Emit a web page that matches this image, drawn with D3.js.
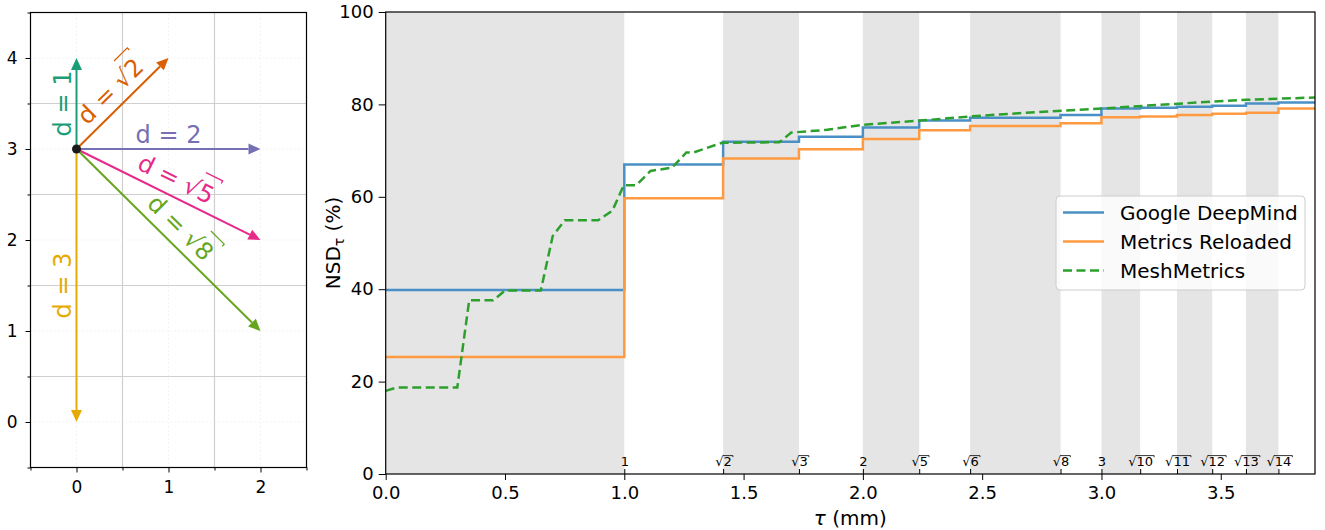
<!DOCTYPE html>
<html>
<head>
<meta charset="utf-8">
<script src="https://cdn.jsdelivr.net/npm/d3@7"></script>
<style>
  body { margin: 0; background: #fff; }
  svg { font-family: "DejaVu Sans", sans-serif; display: block; }
</style>
</head>
<body>
<div id="chart"></div>
<script>
// ---- data: left panel (neighbour distances on a grid) ----
const origin = [0, 3];
const arrowEnds = [[0, 4], [1, 4], [2, 3], [2, 2], [2, 1], [0, 0]];
const arrowLabels = ["1", "2", "2", "5", "8", "3"];
const arrowIsRoot = [false, true, false, true, true, false];
const arrowColors = ["#1b9e77", "#d95f02", "#7570b3", "#e7298a", "#66a61e", "#e6ab02"];

// ---- data: right panel ----
const distSquares = [1, 2, 3, 4, 5, 6, 8, 9, 10, 11, 12, 13, 14];
const distLabels = ["1", "√2", "√3", "2", "√5", "√6", "√8", "3", "√10", "√11", "√12", "√13", "√14"];
const xTicks = [0, 0.5, 1, 1.5, 2, 2.5, 3, 3.5];
const yTicks = [0, 20, 40, 60, 80, 100];

// NSD value per interval [0,1), [1,√2), [√2,√3) ... [√14, end)
const deepmind = [39.8, 67.0, 71.9, 73.0, 75.0, 76.5, 77.1, 77.7, 79.1, 79.3, 79.5, 79.7, 80.2, 80.4];
const reloaded = [25.3, 59.7, 68.3, 70.3, 72.5, 74.4, 75.3, 75.9, 77.2, 77.4, 77.7, 78.0, 78.2, 79.1];

const meshTau = [0, 0.045, 0.30, 0.35, 0.45, 0.50, 0.65, 0.70, 0.75, 0.89, 0.95, 0.998, 1.05, 1.11, 1.20,
  1.26, 1.29, 1.41, 1.65, 1.70, 1.85, 2.0, 2.24, 2.45, 2.78, 3.0, 3.3, 3.61, 3.895];
const meshNSD = [18.0, 18.7, 18.7, 37.6, 37.6, 39.7, 39.7, 51.5, 54.9, 54.9, 57.0, 62.5, 62.5, 65.6, 66.3,
  69.6, 69.6, 71.7, 71.8, 73.9, 74.5, 75.6, 76.5, 77.4, 78.5, 79.1, 80.1, 81.0, 81.5];

const series = [
  { name: "Google DeepMind", color: "#4a90c6", dash: null },
  { name: "Metrics Reloaded", color: "#ff9a40", dash: null },
  { name: "MeshMetrics", color: "#2ca02c", dash: "9,4.5" },
];

const width = 1325, height = 530;
const svg = d3.select("#chart").append("svg").attr("width", width).attr("height", height);

// draws the bar of a square root over the characters after "√" in a text node
function addRootBar(textNode, parent, fs, color, sw) {
  const str = textNode.textContent;
  const k = str.indexOf("√");
  if (k < 0) return;
  const ext = textNode.getExtentOfChar(k);
  const base = textNode.getStartPositionOfChar(k).y;
  const end = textNode.getEndPositionOfChar(str.length - 1).x;
  const top = base - 0.80 * fs;
  const x0 = ext.x + ext.width - fs * 0.06;
  parent.append("path")
    .attr("d", `M${x0},${top}H${end + fs * 0.08}v${fs * 0.12}`)
    .attr("fill", "none").attr("stroke", color).attr("stroke-width", sw);
}

// ================= left panel =================
const xL = d3.scaleLinear().domain([-0.5, 2.5]).range([30.5, 306.5]);
const yL = d3.scaleLinear().domain([-0.5, 4.5]).range([467.5, 12.5]);
const left = svg.append("g");

// grid: solid at half steps, faint dotted at integers
[0.5, 1.5].forEach(v => left.append("line").attr("x1", xL(v)).attr("x2", xL(v)).attr("y1", yL(-0.5)).attr("y2", yL(4.5))
  .attr("stroke", "#cfcfcf").attr("stroke-width", 1.2));
[0.5, 1.5, 2.5, 3.5].forEach(v => left.append("line").attr("y1", yL(v)).attr("y2", yL(v)).attr("x1", xL(-0.5)).attr("x2", xL(2.5))
  .attr("stroke", "#cfcfcf").attr("stroke-width", 1.2));
[0, 1, 2].forEach(v => left.append("line").attr("x1", xL(v)).attr("x2", xL(v)).attr("y1", yL(-0.5)).attr("y2", yL(4.5))
  .attr("stroke", "#e4e4e4").attr("stroke-width", 0.8).attr("stroke-dasharray", "1,3"));
[0, 1, 2, 3, 4].forEach(v => left.append("line").attr("y1", yL(v)).attr("y2", yL(v)).attr("x1", xL(-0.5)).attr("x2", xL(2.5))
  .attr("stroke", "#e4e4e4").attr("stroke-width", 0.8).attr("stroke-dasharray", "1,3"));

// axes
const styleAxis = (g, fs) => {
  g.select(".domain").remove();
  g.selectAll(".tick line").attr("stroke", "#000").attr("stroke-width", 1);
  g.selectAll(".tick text").attr("font-size", fs).attr("fill", "#000").attr("font-family", "DejaVu Sans");
};
left.append("g").attr("transform", `translate(0,${yL(-0.5)})`)
  .call(d3.axisBottom(xL).tickValues([0, 1, 2]).tickFormat(d3.format("d")).tickSize(5).tickPadding(8))
  .call(g => styleAxis(g, 17));
left.append("g").attr("transform", `translate(0,${yL(-0.5)})`)
  .call(d3.axisBottom(xL).tickValues([-0.5, 0.5, 1.5, 2.5]).tickFormat("").tickSize(3))
  .call(g => styleAxis(g, 17));
left.append("g").attr("transform", `translate(${xL(-0.5)},0)`)
  .call(d3.axisLeft(yL).tickValues([0, 1, 2, 3, 4]).tickFormat(d3.format("d")).tickSize(5).tickPadding(8))
  .call(g => styleAxis(g, 17));
left.append("g").attr("transform", `translate(${xL(-0.5)},0)`)
  .call(d3.axisLeft(yL).tickValues([-0.5, 0.5, 1.5, 2.5, 3.5, 4.5]).tickFormat("").tickSize(3))
  .call(g => styleAxis(g, 17));

// arrows
const headLen = 12, headHalf = 5.5, labelOffset = 14;
arrowEnds.forEach((end, i) => {
  const x0 = xL(origin[0]), y0 = yL(origin[1]);
  const x1 = xL(end[0]), y1 = yL(end[1]);
  const len = Math.hypot(x1 - x0, y1 - y0);
  const ux = (x1 - x0) / len, uy = (y1 - y0) / len;
  const bx = x1 - ux * headLen, by = y1 - uy * headLen;
  left.append("line").attr("x1", x0).attr("y1", y0).attr("x2", bx).attr("y2", by)
    .attr("stroke", arrowColors[i]).attr("stroke-width", 2);
  left.append("polygon")
    .attr("points", [[x1, y1], [bx - uy * headHalf, by + ux * headHalf], [bx + uy * headHalf, by - ux * headHalf]].map(p => p.join(",")).join(" "))
    .attr("fill", arrowColors[i]);

  let ang = Math.atan2(uy, ux) * 180 / Math.PI;
  if (ang >= 90) ang -= 180;
  if (ang < -90) ang += 180;
  const r = ang * Math.PI / 180;
  const off = labelOffset + (arrowIsRoot[i] ? 3 : 0);
  const cx = (x0 + x1) / 2 + Math.sin(r) * off;
  const cy = (y0 + y1) / 2 - Math.cos(r) * off;
  const lg = left.append("g").attr("transform", `translate(${cx},${cy}) rotate(${ang})`);
  const t = lg.append("text")
    .attr("text-anchor", "middle").attr("dominant-baseline", "central")
    .attr("font-size", 24).attr("fill", arrowColors[i])
    .text("d = " + (arrowIsRoot[i] ? "√" : "") + arrowLabels[i]);
  if (arrowIsRoot[i]) addRootBar(t.node(), lg, 24, arrowColors[i], 1.3);
});
left.append("circle").attr("cx", xL(origin[0])).attr("cy", yL(origin[1])).attr("r", 4.5).attr("fill", "#1a1a1a");

left.append("rect").attr("x", xL(-0.5)).attr("y", yL(4.5)).attr("width", xL(2.5) - xL(-0.5)).attr("height", yL(-0.5) - yL(4.5))
  .attr("fill", "none").attr("stroke", "#000").attr("stroke-width", 1.2);

// ================= right panel =================
const xMax = 3.895;
const xR = d3.scaleLinear().domain([0, xMax]).range([385.7, 1315]);
const yR = d3.scaleLinear().domain([0, 100]).range([474, 12]);
const right = svg.append("g");

const dists = distSquares.map(Math.sqrt);
const bounds = [0, ...dists];
right.append("clipPath").attr("id", "clipR").append("rect")
  .attr("x", xR(0)).attr("y", yR(100)).attr("width", xR(xMax) - xR(0)).attr("height", yR(0) - yR(100));

// shaded bands between alternate neighbour distances
const bands = d3.range(0, bounds.length - 1, 2).map(i => [bounds[i], bounds[i + 1]]);
right.append("g").selectAll("rect").data(bands).join("rect")
  .attr("x", d => xR(d[0])).attr("width", d => xR(d[1]) - xR(d[0]))
  .attr("y", yR(100)).attr("height", yR(0) - yR(100))
  .attr("fill", "#e5e5e5");

// lines
const stepLine = d3.line().x(d => xR(d[0])).y(d => yR(d[1])).curve(d3.curveStepAfter);
const toSteps = vals => [...bounds.map((b, i) => [b, vals[i]]), [xMax, vals[vals.length - 1]]];
const lines = right.append("g").attr("clip-path", "url(#clipR)");
lines.append("path").datum(toSteps(deepmind)).attr("d", stepLine)
  .attr("fill", "none").attr("stroke", series[0].color).attr("stroke-width", 2.5);
lines.append("path").datum(toSteps(reloaded)).attr("d", stepLine)
  .attr("fill", "none").attr("stroke", series[1].color).attr("stroke-width", 2.5);
const meshLine = d3.line().x(d => xR(d[0])).y(d => yR(d[1]));
lines.append("path").datum(meshTau.map((t, i) => [t, meshNSD[i]])).attr("d", meshLine)
  .attr("fill", "none").attr("stroke", series[2].color).attr("stroke-width", 2.5)
  .attr("stroke-dasharray", series[2].dash);

// axes
right.append("g").attr("transform", `translate(0,${yR(0)})`)
  .call(d3.axisBottom(xR).tickValues(xTicks).tickFormat(d3.format(".1f")).tickSize(6).tickPadding(6))
  .call(g => styleAxis(g, 18));
right.append("g").attr("transform", `translate(${xR(0)},0)`)
  .call(d3.axisLeft(yR).tickValues(yTicks).tickSize(7).tickPadding(5))
  .call(g => styleAxis(g, 18));
const distAxis = right.append("g").attr("transform", `translate(0,${yR(0)})`)
  .call(d3.axisTop(xR).tickValues(dists).tickSize(5).tickPadding(3).tickFormat((d, i) => distLabels[i]))
  .call(g => styleAxis(g, 13));
distAxis.selectAll(".tick text").each(function () {
  addRootBar(this, d3.select(this.parentNode), 13, "#000", 0.8);
});

right.append("rect").attr("x", xR(0)).attr("y", yR(100)).attr("width", xR(xMax) - xR(0)).attr("height", yR(0) - yR(100))
  .attr("fill", "none").attr("stroke", "#000").attr("stroke-width", 1.2);

// axis labels
const xlab = right.append("text").attr("x", (xR(0) + xR(xMax)) / 2).attr("y", 525)
  .attr("text-anchor", "middle").attr("font-size", 20);
xlab.append("tspan").attr("font-style", "italic").text("τ");
xlab.append("tspan").text(" (mm)");
const ylab = right.append("text").attr("transform", `translate(340,${(yR(0) + yR(100)) / 2}) rotate(-90)`)
  .attr("text-anchor", "middle").attr("font-size", 20);
ylab.append("tspan").text("NSD");
ylab.append("tspan").attr("font-size", 14).attr("dy", 4).text("τ");
ylab.append("tspan").attr("dy", -4).text(" (%)");

// legend
const lg = right.append("g").attr("transform", "translate(1056,196)");
lg.append("rect").attr("width", 249).attr("height", 94).attr("rx", 4)
  .attr("fill", "#fff").attr("fill-opacity", 0.8).attr("stroke", "#cccccc");
series.forEach((s, i) => {
  const y = 16.5 + i * 29;
  lg.append("line").attr("x1", 7).attr("x2", 48).attr("y1", y).attr("y2", y)
    .attr("stroke", s.color).attr("stroke-width", 2.5).attr("stroke-dasharray", s.dash);
  lg.append("text").attr("x", 64).attr("y", y).attr("dominant-baseline", "central")
    .attr("font-size", 20).text(s.name);
});
</script>
</body>
</html>
